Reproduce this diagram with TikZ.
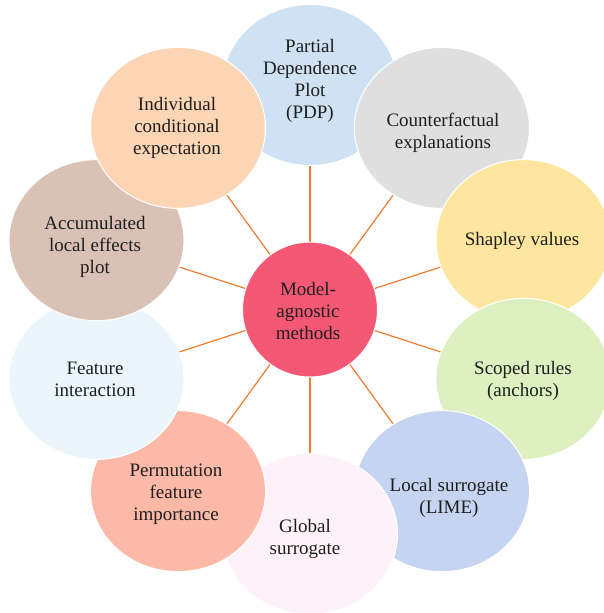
\documentclass[tikz,border=0pt]{standalone}
\usepackage{fontspec}
\setmainfont{Liberation Serif}
\usetikzlibrary{shapes.geometric,backgrounds}
\definecolor{cPDP}{RGB}{207,226,243}
\definecolor{cICE}{RGB}{252,213,181}
\definecolor{cCF}{RGB}{224,223,224}
\definecolor{cSHAP}{RGB}{255,230,160}
\definecolor{cSCOPE}{RGB}{220,240,192}
\definecolor{cLIME}{RGB}{197,212,240}
\definecolor{cGLOB}{RGB}{254,242,248}
\definecolor{cPERM}{RGB}{253,185,168}
\definecolor{cFEAT}{RGB}{235,246,252}
\definecolor{cALE}{RGB}{218,193,182}
\definecolor{cHUB}{RGB}{244,88,116}
\definecolor{cTXT}{RGB}{30,30,30}
\definecolor{cSPOKE}{RGB}{237,125,49}
\begin{document}
\begin{tikzpicture}[x=1pt,y=-1pt,
  bubble/.style={ellipse, minimum width=175pt, minimum height=161pt, inner sep=0pt,
    draw=white, line width=1pt},
  hub/.style={circle, minimum size=135pt, inner sep=0pt, draw=white, line width=1pt,
    fill=cHUB},
  lbl/.style={align=center, text=cTXT, inner sep=0pt,
    font=\fontsize{19}{22}\selectfont},
  spoke/.style={draw=cSPOKE, line width=1.2pt}]
\useasboundingbox (0,0) rectangle (604,613);
\node[hub] (hub) at (310,309.5) {};
\node[lbl] (hubT) at (308,310.5) {Model-\\agnostic\\methods};
\node[bubble, fill=cPDP] (pdp) at (310,85) {};
\node[lbl] (pdpT) at (310,81) {Partial\\Dependence\\Plot\\(PDP)};
\node[bubble, fill=cCF] (cf) at (441.96,127.88) {};
\node[lbl] (cfT) at (443,132.5) {Counterfactual\\explanations};
\node[bubble, fill=cSHAP] (shap) at (523.51,240.13) {};
\node[lbl] (shapT) at (522,241) {Shapley values};
\node[bubble, fill=cSCOPE] (scope) at (523.51,378.87) {};
\node[lbl] (scopeT) at (523,381) {Scoped rules\\(anchors)};
\node[bubble, fill=cLIME] (lime) at (441.96,491.12) {};
\node[lbl] (limeT) at (449,497.5) {Local surrogate\\(LIME)};
\node[bubble, fill=cGLOB] (glob) at (310,534) {};
\node[lbl] (globT) at (305,539) {Global\\surrogate};
\node[bubble, fill=cPERM] (perm) at (178.04,491.12) {};
\node[lbl] (permT) at (176,494) {Permutation\\feature\\importance};
\node[bubble, fill=cFEAT] (feat) at (96.49,378.87) {};
\node[lbl] (featT) at (95,379) {Feature\\interaction};
\node[bubble, fill=cALE] (ale) at (96.49,240.13) {};
\node[lbl] (aleT) at (95,246.5) {Accumulated\\local effects\\plot};
\node[bubble, fill=cICE] (ice) at (178.04,127.88) {};
\node[lbl] (iceT) at (177,128) {Individual\\conditional\\expectation};
\begin{pgfonlayer}{background}
\foreach \t in {pdp,cf,shap,scope,lime,glob,perm,feat,ale,ice}
  \draw[spoke] (hub.center) -- (\t.center);
\end{pgfonlayer}
\end{tikzpicture}
\end{document}
